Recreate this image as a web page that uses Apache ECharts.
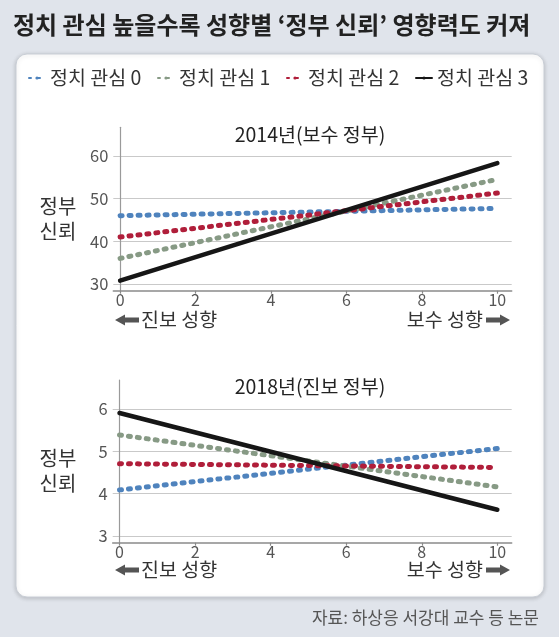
<!DOCTYPE html>
<html><head><meta charset="utf-8">
<script src="https://cdn.jsdelivr.net/npm/echarts@6/dist/echarts.min.js"></script>
<style>html,body{margin:0;padding:0;background:#e0e4eb}#c{width:559px;height:637px}</style>
</head><body><div id="c"></div>
<script>
// ---- data ----
const seriesNames = ['정치 관심 0', '정치 관심 1', '정치 관심 2', '정치 관심 3'];
const xPoints = [0, 10];
const trust2014_0 = [46.0, 47.7];
const trust2014_1 = [36.0, 54.5];
const trust2014_2 = [41.0, 51.3];
const trust2014_3 = [30.8, 58.3];
const trust2018_0 = [4.09, 5.07];
const trust2018_1 = [5.39, 4.16];
const trust2018_2 = [4.71, 4.62];
const trust2018_3 = [5.91, 3.62];
const xTicks = [0, 2, 4, 6, 8, 10];
const yTicks2014 = [30, 40, 50, 60];
const yTicks2018 = [3, 4, 5, 6];
const panelTitles = ['2014년(보수 정부)', '2018년(진보 정부)'];
const mainTitle = '정치 관심 높을수록 성향별 ‘정부 신뢰’ 영향력도 커져';
const sourceText = '자료: 하상응 서강대 교수 등 논문';

// ---- styles ----
const FONT = '"Noto Sans CJK KR", "Noto Sans", sans-serif';
const colors = ['#4f83bd', '#879a85', '#b01e3a', '#161616'];
const dot = [2, 7];

function pairs(vals) { return xPoints.map((x, i) => [x, vals[i]]); }

function xAxisCfg(gi) {
  return {
    type: 'value', gridIndex: gi, min: -0.18, max: 10.38, minInterval: 2, maxInterval: 2,
    axisLine: { show: true, lineStyle: { color: '#8a8a8a', width: 1.5 } },
    axisTick: { show: true, length: 3, customValues: xTicks, lineStyle: { color: '#8a8a8a', width: 1.2 } },
    axisLabel: { customValues: xTicks, color: '#555', fontSize: 16, margin: 1, fontFamily: FONT, lineHeight: 16 },
    splitLine: { show: false }
  };
}
function yAxisCfg(gi, min, max, step, ticks) {
  return {
    type: 'value', gridIndex: gi, min: min, max: max, minInterval: step, maxInterval: step,
    axisLine: { show: true, lineStyle: { color: '#9a9a9a', width: 1.2 } },
    axisTick: { show: false },
    axisLabel: { customValues: ticks, color: '#555', fontSize: 16.5, margin: 5, fontFamily: FONT },
    splitLine: { show: true, showMinLine: false, showMaxLine: false, lineStyle: { color: '#c9c9c9', width: 1 } }
  };
}
function lineSeries(name, data, idx, gi) {
  const solid = idx === 3;
  return {
    type: 'line', name: name, xAxisIndex: gi, yAxisIndex: gi, data: pairs(data),
    showSymbol: false, symbol: 'none', silent: true, z: solid ? 6 : 2 + idx,
    lineStyle: { color: colors[idx], width: solid ? 4.5 : 5, type: solid ? 'solid' : dot, cap: 'round' },
    itemStyle: { color: colors[idx] }
  };
}

function arrow(dir, xTip, yc) {
  const s = dir; // -1 left, 1 right
  const head = 10, len = 24, hh = 5.5, sh = 2.6;
  const pts = [
    [xTip, yc], [xTip - s * head, yc - hh], [xTip - s * head, yc - sh], [xTip - s * len, yc - sh],
    [xTip - s * len, yc + sh], [xTip - s * head, yc + sh], [xTip - s * head, yc + hh]
  ];
  return { type: 'polygon', shape: { points: pts }, style: { fill: '#555' }, z: 10 };
}
function txt(text, x, y, align, size, color, lh) {
  return { type: 'text', x: x, y: y, z: 10, style: { text: text, fill: color || '#333', font: size + 'px ' + FONT, align: align, verticalAlign: 'middle', lineHeight: lh || size } };
}

const chart = echarts.init(document.getElementById('c'));
chart.setOption({
  backgroundColor: '#e0e4eb',
  animation: false,
  title: [
    { text: mainTitle, left: 13, top: 12, padding: 0, textStyle: { fontSize: 24, fontWeight: 'bold', color: '#222', fontFamily: FONT, lineHeight: 26 } },
    { text: panelTitles[0], left: 310, top: 125, padding: 0, textAlign: 'center', textStyle: { fontSize: 19.5, fontWeight: 'normal', color: '#222', fontFamily: FONT, lineHeight: 20 } },
    { text: panelTitles[1], left: 310, top: 377, padding: 0, textAlign: 'center', textStyle: { fontSize: 19.5, fontWeight: 'normal', color: '#222', fontFamily: FONT, lineHeight: 20 } },
    { text: sourceText, right: 20, top: 609, padding: 0, textStyle: { fontSize: 17, fontWeight: 'normal', color: '#555', fontFamily: FONT, lineHeight: 18 } }
  ],
  legend: {
    left: 28, top: 67, padding: 0, itemWidth: 16, itemHeight: 4, itemGap: 8,
    data: seriesNames,
    textStyle: { fontSize: 19.5, color: '#333', fontFamily: FONT, width: 99, lineHeight: 22 },
    selectedMode: false
  },
  grid: [
    { left: 113.3, top: 127.3, width: 398.4, height: 163.4 },
    { left: 112.7, top: 380, width: 399, height: 162.7 }
  ],
  xAxis: [xAxisCfg(0), xAxisCfg(1)],
  yAxis: [yAxisCfg(0, 28.43, 66.7, 10, yTicks2014), yAxisCfg(1, 2.84, 6.69, 1, yTicks2018)],
  series: [
    lineSeries(seriesNames[1], trust2014_1, 1, 0),
    lineSeries(seriesNames[2], trust2014_2, 2, 0),
    lineSeries(seriesNames[0], trust2014_0, 0, 0),
    lineSeries(seriesNames[3], trust2014_3, 3, 0),
    lineSeries(seriesNames[1], trust2018_1, 1, 1),
    lineSeries(seriesNames[2], trust2018_2, 2, 1),
    lineSeries(seriesNames[0], trust2018_0, 0, 1),
    lineSeries(seriesNames[3], trust2018_3, 3, 1)
  ],
  graphic: [
    { type: 'rect', z: -10, shape: { x: 16, y: 54, width: 528, height: 543, r: 11 },
      style: { fill: '#ffffff', stroke: '#c9ced6', lineWidth: 1, shadowBlur: 4, shadowColor: 'rgba(0,0,0,0.18)', shadowOffsetY: 1 } },
    txt('정부\n신뢰', 58, 219, 'center', 20, '#333', 25),
    txt('정부\n신뢰', 58, 471, 'center', 20, '#333', 25),
    arrow(-1, 115, 320), txt('진보 성향', 141, 320, 'left', 19.5, '#333'),
    arrow(1, 510, 320), txt('보수 성향', 483, 320, 'right', 19.5, '#333'),
    arrow(-1, 115, 570), txt('진보 성향', 141, 570, 'left', 19.5, '#333'),
    arrow(1, 510, 570), txt('보수 성향', 483, 570, 'right', 19.5, '#333')
  ]
});
</script></body></html>
